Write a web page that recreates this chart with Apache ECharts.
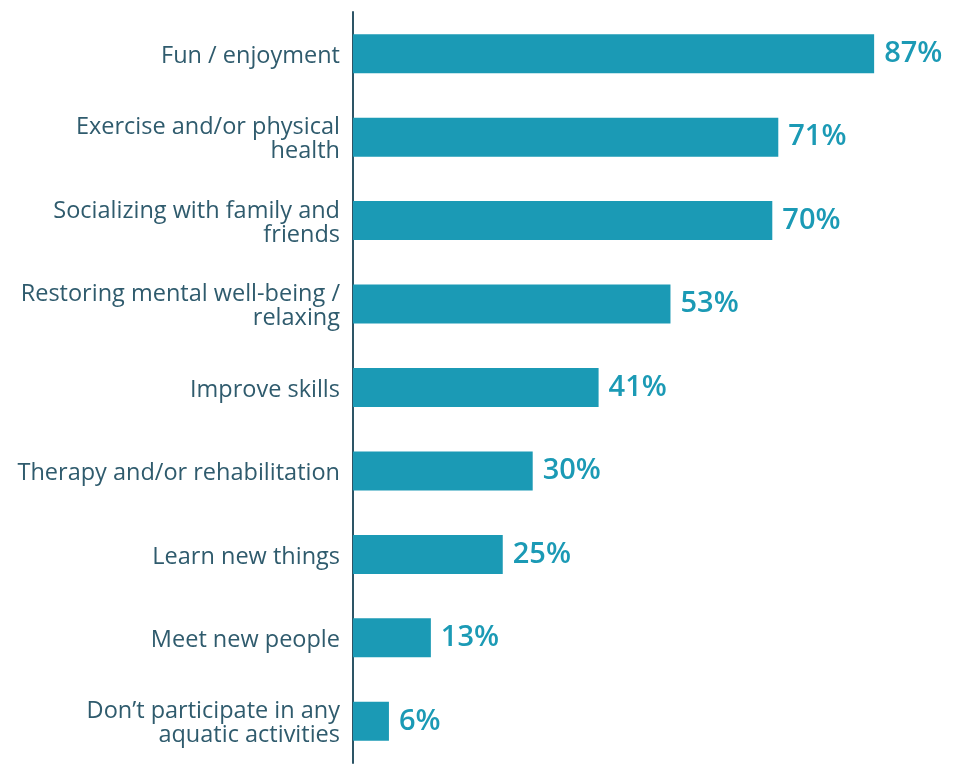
<!DOCTYPE html>
<html>
<head>
<meta charset="utf-8">
<script src="https://cdn.jsdelivr.net/npm/echarts@6/dist/echarts.min.js"></script>
<style>html,body{margin:0;padding:0;background:#fff;}#c{width:963px;height:771px;}</style>
</head>
<body>
<div id="c"></div>
<script>
const categories = [
  "Fun / enjoyment",
  "Exercise and/or physical\nhealth",
  "Socializing with family and\nfriends",
  "Restoring mental well-being /\nrelaxing",
  "Improve skills",
  "Therapy and/or rehabilitation",
  "Learn new things",
  "Meet new people",
  "Don\u2019t participate in any\naquatic activities"
];
const values = [87, 71, 70, 53, 41, 30, 25, 13, 6];

const chart = echarts.init(document.getElementById('c'));
chart.setOption({
  animation: false,
  grid: { left: 353, right: 11, top: 12, bottom: 8, containLabel: false },
  xAxis: { type: 'value', min: 0, max: 100, show: false },
  yAxis: {
    type: 'category',
    data: categories,
    inverse: true,
    axisLine: { show: true, lineStyle: { color: '#2d5566', width: 2 } },
    axisTick: { show: false },
    axisLabel: {
      margin: 13,
      color: '#2f5b6d',
      fontFamily: 'Open Sans',
      fontSize: 23.5,
      lineHeight: 24,
      align: 'right',
      formatter: function (v) { return '{a|' + v.split('\n').join('}\n{a|') + '}'; },
      rich: {
        a: { color: '#2f5b6d', fontFamily: 'Open Sans', fontSize: 23.5, lineHeight: 24, padding: [5, 0, 0, 0], align: 'right' }
      }
    }
  },
  series: [{
    type: 'bar',
    data: values,
    barWidth: 39,
    itemStyle: { color: '#1b9ab5' },
    label: {
      show: true,
      position: 'right',
      distance: 10,
      formatter: '{c}%',
      color: '#1b9ab5',
      fontFamily: 'Open Sans',
      fontWeight: 600,
      fontSize: 29
    }
  }]
});
</script>
</body>
</html>
